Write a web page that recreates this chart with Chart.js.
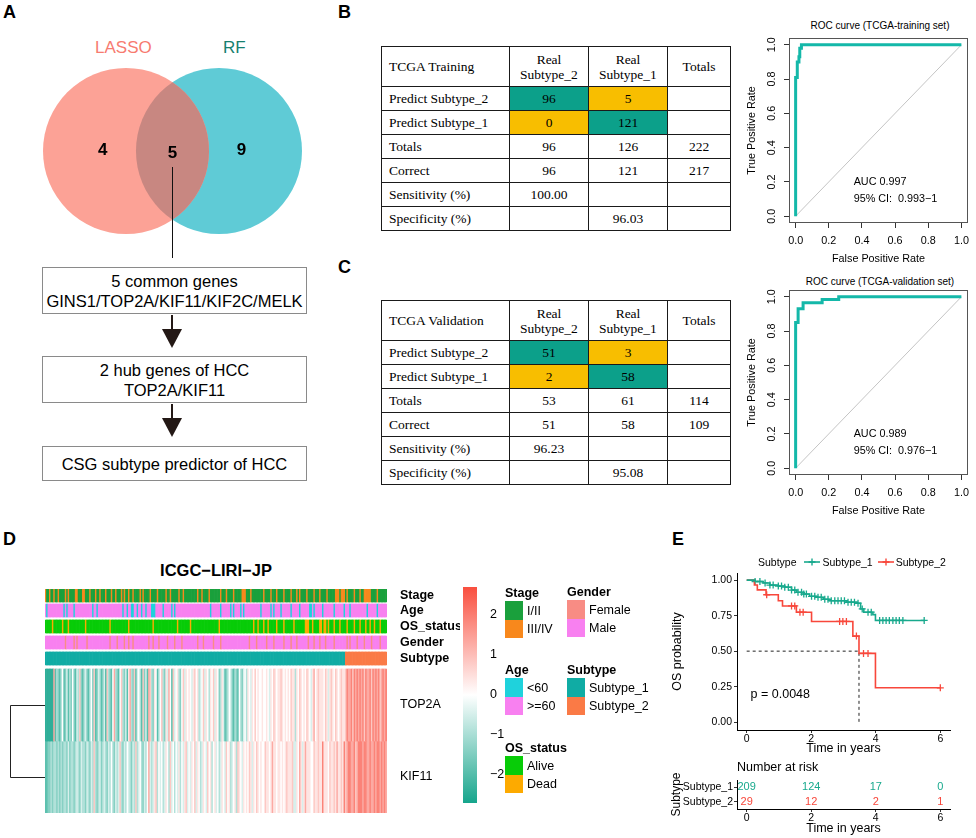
<!DOCTYPE html>
<html><head><meta charset="utf-8">
<script src="https://cdn.jsdelivr.net/npm/chart.js@4.4.1/dist/chart.umd.min.js"></script>
<style>
html,body{margin:0;padding:0;background:#fff}
body{position:relative;width:976px;height:838px;overflow:hidden;font-family:"Liberation Sans",Arial,sans-serif;color:#000}
.a{position:absolute;white-space:nowrap}
.plab{position:absolute;font-weight:bold;font-size:18px;line-height:18px}
.flow{position:absolute;left:42px;width:265px;border:1px solid #8a8a8a;box-sizing:border-box;text-align:center;font-size:16.5px;line-height:20px;display:flex;flex-direction:column;justify-content:center;align-items:center;background:#fff}
.stem{position:absolute;left:171px;width:2px;background:#231815}
.head{position:absolute;left:162px;width:0;height:0;border-left:10px solid transparent;border-right:10px solid transparent;border-top:19px solid #231815}
table.ct{position:absolute;left:381px;width:349px;border-collapse:collapse;table-layout:fixed;font-family:"Liberation Serif","Times New Roman",serif;font-size:13.5px}
table.ct td{border:1.5px solid #1a1a1a;padding:0;text-align:center;height:23px;line-height:15px}
table.ct tr.hd td{height:39px}
table.ct td.lab{text-align:left;padding-left:7px}
canvas{position:absolute}
.lg-t{position:absolute;font-weight:bold;font-size:12.5px;line-height:16px;white-space:nowrap}
.lg-s{position:absolute;width:18px;height:18.5px}
.lg-l{position:absolute;font-size:12.5px;line-height:16px;white-space:nowrap}
.rtitle{position:absolute;font-size:10px;line-height:12px;white-space:nowrap;transform:translateX(-50%)}
</style></head><body>

<div class="plab" style="left:3px;top:3px">A</div>
<div class="plab" style="left:338px;top:3px">B</div>
<div class="plab" style="left:338px;top:258px">C</div>
<div class="plab" style="left:3px;top:530px">D</div>
<div class="plab" style="left:672px;top:530px">E</div>

<!-- Panel A -->
<div id="vennT1" class="a" style="left:95px;top:39px;font-size:17px;line-height:18px;color:#F77B70"></div>
<div id="vennT2" class="a" style="left:223px;top:39px;font-size:17px;line-height:18px;color:#17806F"></div>
<canvas id="venn" width="345" height="180" style="left:0;top:61px"></canvas>
<div class="a" style="left:171.5px;top:167px;width:1.5px;height:91px;background:#111"></div>
<div id="flow0" class="flow" style="top:267px;height:47px"></div>
<div class="stem" style="top:315px;height:15px"></div>
<div class="head" style="top:329px"></div>
<div id="flow1" class="flow" style="top:356px;height:47px"></div>
<div class="stem" style="top:404px;height:15px"></div>
<div class="head" style="top:418px"></div>
<div id="flow2" class="flow" style="top:446px;height:35px"></div>

<!-- Panels B, C tables -->
<table id="tabTrain" class="ct" style="top:46px"></table>
<table id="tabValid" class="ct" style="top:300px"></table>

<div id="rocT1" class="rtitle" style="left:880px;top:20px"></div>
<canvas id="rocTrain" width="236" height="255" style="left:740px;top:16px"></canvas>
<div id="rocT2" class="rtitle" style="left:880px;top:276px"></div>
<canvas id="rocValid" width="236" height="255" style="left:740px;top:268px"></canvas>

<!-- Panel D -->
<div id="hmTitle" class="a" style="left:216px;top:561px;font-size:16.5px;line-height:18px;font-weight:bold;transform:translateX(-50%)"></div>
<canvas id="heat" width="460" height="254" style="left:0;top:574px"></canvas>
<canvas id="cbar" width="60" height="246" style="left:450px;top:572px"></canvas>
<div id="annLegend"></div>

<!-- Panel E -->
<div id="kmLegend" class="a" style="left:758px;top:555px;font-size:10.5px;line-height:14px"></div>
<canvas id="km" width="311" height="194" style="left:665px;top:564px"></canvas>
<div class="a" style="left:737px;top:759px;font-size:12.5px;line-height:16px">Number at risk</div>
<canvas id="risk" width="311" height="68" style="left:665px;top:770px"></canvas>

<script>
// ======================= DATA =======================
// Panel A
const vennSetNames = ['LASSO', 'RF'];
const vennRegionCounts = [4, 5, 9];           // LASSO only, both, RF only
const flowSteps = [
  ['5 common genes', 'GINS1/TOP2A/KIF11/KIF2C/MELK'],
  ['2 hub genes of HCC', 'TOP2A/KIF11'],
  ['CSG subtype predictor of HCC']
];

// Panels B / C tables
const tableColHeads = ['Real<br>Subtype_2', 'Real<br>Subtype_1', 'Totals'];
const tableRowLabels = ['Predict Subtype_2', 'Predict Subtype_1', 'Totals', 'Correct', 'Sensitivity (%)', 'Specificity (%)'];
const trainCells = [['96', '5', ''], ['0', '121', ''], ['96', '126', '222'], ['96', '121', '217'], ['100.00', '', ''], ['', '96.03', '']];
const validCells = [['51', '3', ''], ['2', '58', ''], ['53', '61', '114'], ['51', '58', '109'], ['96.23', '', ''], ['', '95.08', '']];

// ROC curves
const rocTicks = [0, 0.2, 0.4, 0.6, 0.8, 1.0];
const rocTrainFPR = [0, 0, 0.01, 0.01, 0.02, 0.02, 0.025, 0.025, 0.035, 0.035, 1];
const rocTrainTPR = [0, 0.81, 0.81, 0.90, 0.90, 0.93, 0.93, 0.98, 0.98, 1, 1];
const rocValidFPR = [0, 0, 0.015, 0.015, 0.045, 0.045, 0.16, 0.16, 0.26, 0.26, 1];
const rocValidTPR = [0, 0.85, 0.85, 0.93, 0.93, 0.965, 0.965, 0.985, 0.985, 1, 1];
const rocTrainStats = ['AUC 0.997', '95% CI:  0.993\u22121'];
const rocValidStats = ['AUC 0.989', '95% CI:  0.976\u22121'];

// Panel D heatmap (one character per sample)
const subtypeCounts = [209, 29];
const stageCodes = ["2112112112","1111212111","1221112211","1211121121","1121112112","1112121121","1211112121","1112111121","1111211211","1112112111","1111112112","1111211111","1121112111","1211111222","1112111111","1121111211","1211112111","1211121211","1121111211","1211112111","1122212221","2111121112","1122222111","12111111"].join('');
const ageCodes = ["2122222222","2221212222","1222222222","2221221222","2222222222","2222122122","1122122122","1222111222","2212222212","1222222222","2222222222","2222212222","2212222221","2122221212","2222222222","1222222121","2222122222","2122222122","2222112122","2221222222","2122222212","2212222222","2222122222","21222222"].join('');
const osCodes = ["1111121111","1121112111","1111111121","1111111111","1111121111","1111111121","1111111111","1111121111","1111111111","1121111111","1211111111","1111111111","1211111111","1111111111","1111121121","1121121111","1211112111","1112111111","1222112111","1221221211","1211121111","2111121112","1112112112","11121111"].join('');
const genderCodes = ["2222222222","2222122222","1212222221","2222222222","2222212222","1222212212","2122222222","2212212221","2222212222","1222212222","2222221222","1222222122","2212222222","2222222222","2212222122","2222122221","2222221222","2122212222","2221222122","2122212222","2122222222","1212222122","2212222122","22212222"].join('');
const top2aLevels = ["aaaaaaibdc","bdfbcebdcf","cbedhcbdec","bdfchbcedb","cebhdcbfid","cbfhdcebgi","dchbefdbhc","ebihdcgfbd","fhdcgeifbh","efgdcfhegf","gfeghfgdef","hegfdgfheg","fcdgebcdfe","cbdcbfdcef","dgfegfhfgf","fgffgfegfh","gfgghgfgfg","fhggdgfhgf","gfhgfegifg","hgggfhgegh","gfhgfghggh","jiijhjijij","ijhjiijhji","jijhijij"].join('');
const kif11Levels = ["bbccdcddcd","cdcddcecdd","cdedceddce","dcedhdcdec","dedcedfdce","dehdcedfed","cedhdefdce","dfiedeghdf","efdegfdhef","dfegdfeghe","fegfhegfde","gfehfgdfge","fdegfehfgd","efgdhgfegf","gfhgegfhgf","gffhggfgig","gfggfgfghg","ggheegfige","gigggffhgg","hggjgggfhg","ghgigghgjh","ijjiijhijj","jijjiijiij","ijjijiji"].join('');
const levelValues = {a: -2.4, b: -1.9, c: -1.4, d: -0.9, e: -0.45, f: 0, g: 0.4, h: 0.85, i: 1.3, j: 1.9, k: 2.4};
const colorbarTicks = [-2, -1, 0, 1, 2];
const annLegendGroups = [
  {title: 'Stage', labels: ['I/II', 'III/IV'], track: 0},
  {title: 'Gender', labels: ['Female', 'Male'], track: 3},
  {title: 'Age', labels: ['<60', '>=60'], track: 1},
  {title: 'Subtype', labels: ['Subtype_1', 'Subtype_2'], track: 4},
  {title: 'OS_status', labels: ['Alive', 'Dead'], track: 2}
];

// Panel E Kaplan-Meier
const km1Time = [0, 0.26, 0.51, 0.72, 0.98, 1.18, 1.39, 1.54, 1.75, 1.95, 2.16, 2.37, 2.57, 3.09, 3.40, 3.53, 3.63, 3.91, 3.99, 5.50];
const km1Surv = [1, 0.99, 0.98, 0.965, 0.958, 0.95, 0.93, 0.914, 0.902, 0.886, 0.879, 0.865, 0.855, 0.844, 0.837, 0.797, 0.774, 0.757, 0.716, 0.716];
const km1CensorTime = [0.26, 0.41, 0.57, 0.72, 0.82, 0.98, 1.08, 1.18, 1.29, 1.39, 1.49, 1.59, 1.70, 1.77, 1.85, 2.01, 2.11, 2.21, 2.31, 2.42, 2.52, 2.62, 2.73, 2.83, 2.93, 3.03, 3.14, 3.24, 3.34, 3.45, 3.58, 3.76, 3.86, 4.12, 4.22, 4.32, 4.42, 4.53, 4.63, 4.73, 4.84, 5.50];
const km1CensorSurv = [0.99, 0.99, 0.98, 0.965, 0.965, 0.958, 0.958, 0.95, 0.95, 0.93, 0.93, 0.914, 0.914, 0.902, 0.902, 0.886, 0.886, 0.879, 0.879, 0.865, 0.865, 0.855, 0.855, 0.855, 0.855, 0.855, 0.844, 0.844, 0.844, 0.837, 0.797, 0.774, 0.774, 0.716, 0.716, 0.716, 0.716, 0.716, 0.716, 0.716, 0.716, 0.716];
const km2Time = [0, 0.24, 0.33, 0.60, 0.98, 1.11, 1.54, 2.01, 3.29, 3.48, 3.99, 6.00];
const km2Surv = [1, 0.966, 0.931, 0.897, 0.855, 0.818, 0.774, 0.709, 0.606, 0.484, 0.242, 0.242];
const km2CensorTime = [0.62, 1.39, 1.49, 1.65, 1.75, 2.88, 2.98, 3.09, 3.40, 3.62, 3.76, 6.00];
const km2CensorSurv = [0.897, 0.818, 0.818, 0.774, 0.774, 0.709, 0.709, 0.709, 0.606, 0.484, 0.484, 0.242];
const kmGroups = ['Subtype_1', 'Subtype_2'];
const kmXTicks = [0, 2, 4, 6];
const kmYTicks = [0, 0.25, 0.5, 0.75, 1];
const medianTimeSubtype2 = 3.48;
const pValueText = 'p = 0.0048';
const riskTimes = [0, 2, 4, 6];
const riskSubtype1 = [209, 124, 17, 0];
const riskSubtype2 = [29, 12, 2, 1];

// ======================= STYLE =======================
const VENN_COLORS = ['#FCA296', '#5FCBD6'], VENN_OVERLAP = '#C88781';
const VENN_X_RANGE = [-2.078, 2.078], VENN_Y_RANGE = [-1.084, 1.084], VENN_W = 345;
const ROC_COLOR = '#14B8A9';
const CELL_TEAL = '#0CA08A', CELL_YELLOW = '#F8BE00';
const TRACK_PALETTES = [
  {'1': '#1AA03C', '2': '#F8881C'},
  {'1': '#1FD2DC', '2': '#F880F0'},
  {'1': '#08CC08', '2': '#FDAA00'},
  {'1': '#F88C84', '2': '#F880F0'},
  {'1': '#10ACA4', '2': '#FA7A46'}
];
const HEAT_LOW = [22, 165, 140], HEAT_HIGH = [249, 79, 63], HEAT_LIM = 2.7;
const KM_COLORS = ['#18A98D', '#F8473B'];
const FONT = "'Liberation Sans', Arial, sans-serif";

Chart.defaults.font.family = FONT;
Chart.defaults.color = '#000';
Chart.defaults.animation = false;
Chart.defaults.layout.autoPadding = false;
Chart.defaults.plugins.legend.display = false;
Chart.defaults.plugins.tooltip.enabled = false;
Chart.defaults.events = [];

// ======================= PANEL A =======================
document.getElementById('vennT1').textContent = vennSetNames[0];
document.getElementById('vennT2').textContent = vennSetNames[1];
flowSteps.forEach((lines, i) => {
  document.getElementById('flow' + i).innerHTML = lines.map(l => '<div>' + l + '</div>').join('');
});

const vennUnitPx = VENN_W / (VENN_X_RANGE[1] - VENN_X_RANGE[0]);   // circle radius = 1 unit
const vennPlugin = {
  id: 'vennPlugin',
  afterDatasetsDraw(chart) {
    const a = chart.getDatasetMeta(0).data[0], b = chart.getDatasetMeta(1).data[0];
    const ctx = chart.ctx, r = vennUnitPx;
    ctx.save();
    ctx.beginPath(); ctx.arc(a.x, a.y, r, 0, Math.PI * 2); ctx.clip();
    ctx.beginPath(); ctx.arc(b.x, b.y, r, 0, Math.PI * 2);
    ctx.fillStyle = VENN_OVERLAP; ctx.fill();
    ctx.restore();
    ctx.save();
    ctx.font = 'bold 17px ' + FONT; ctx.textAlign = 'center'; ctx.textBaseline = 'middle'; ctx.fillStyle = '#000';
    const xs = [a.x - 0.28 * r, (a.x + b.x) / 2, b.x + 0.27 * r];
    const dy = [-1, 2, -1];
    vennRegionCounts.forEach((c, i) => ctx.fillText(String(c), xs[i], a.y + dy[i]));
    ctx.restore();
  }
};
new Chart(document.getElementById('venn'), {
  type: 'bubble',
  data: {datasets: [
    {data: [{x: -0.56, y: 0, r: vennUnitPx}], backgroundColor: VENN_COLORS[0], borderWidth: 0},
    {data: [{x: 0.56, y: 0, r: vennUnitPx}], backgroundColor: VENN_COLORS[1], borderWidth: 0}
  ]},
  options: {
    responsive: false, layout: {padding: 0, autoPadding: false}, clip: false,
    scales: {x: {display: false, min: VENN_X_RANGE[0], max: VENN_X_RANGE[1]}, y: {display: false, min: VENN_Y_RANGE[0], max: VENN_Y_RANGE[1]}}
  },
  plugins: [vennPlugin]
});

// ======================= TABLES =======================
function buildTable(id, corner, cells) {
  const t = document.getElementById(id);
  let h = '<colgroup><col style="width:128px"><col style="width:79px"><col style="width:79px"><col style="width:63px"></colgroup>';
  h += '<tr class="hd"><td class="lab">' + corner + '</td>' + tableColHeads.map(c => '<td>' + c + '</td>').join('') + '</tr>';
  tableRowLabels.forEach((lab, r) => {
    h += '<tr><td class="lab">' + lab + '</td>';
    cells[r].forEach((v, c) => {
      let bg = '';
      if (r < 2 && c < 2) bg = (r === c) ? CELL_TEAL : CELL_YELLOW;
      h += '<td' + (bg ? ' style="background:' + bg + '"' : '') + '>' + v + '</td>';
    });
    h += '</tr>';
  });
  t.innerHTML = h;
}
buildTable('tabTrain', 'TCGA Training', trainCells);
buildTable('tabValid', 'TCGA Validation', validCells);

// ======================= ROC =======================
const boxPlugin = {
  id: 'boxPlugin',
  afterDraw(chart) {
    const {left, top, right, bottom} = chart.chartArea, ctx = chart.ctx;
    ctx.save(); ctx.strokeStyle = '#555'; ctx.lineWidth = 1;
    ctx.strokeRect(Math.round(left) + 0.5, Math.round(top) + 0.5, Math.round(right - left) - 1, Math.round(bottom - top) - 1);
    ctx.restore();
  }
};
const rocTextPlugin = {
  id: 'rocText',
  afterDatasetsDraw(chart, args, opts) {
    const {ctx, scales: {x, y}} = chart;
    ctx.save(); ctx.font = '10.8px ' + FONT; ctx.fillStyle = '#000'; ctx.textBaseline = 'middle'; ctx.textAlign = 'left';
    opts.lines.forEach((l, i) => ctx.fillText(l, x.getPixelForValue(0.35), y.getPixelForValue(0.2 - 0.1 * i)));
    ctx.restore();
  }
};
function rocChart(id, fpr, tpr, stats) {
  return new Chart(document.getElementById(id), {
    type: 'line',
    data: {datasets: [
      {data: fpr.map((v, i) => ({x: v, y: tpr[i]})), borderColor: ROC_COLOR, borderWidth: 3, pointRadius: 0, tension: 0, borderJoinStyle: 'miter', borderCapStyle: 'butt'},
      {data: [{x: 0, y: 0}, {x: 1, y: 1}], borderColor: '#C4C4C4', borderWidth: 1, pointRadius: 0}
    ]},
    options: {
      responsive: false,
      layout: {padding: {left: 0, right: 3, top: 22, bottom: 0}},
      scales: {
        x: {type: 'linear', min: -0.04, max: 1.04,
            afterBuildTicks: s => { s.ticks = rocTicks.map(v => ({value: v})); },
            ticks: {callback: v => v.toFixed(1), font: {size: 10.8}, color: '#000', maxRotation: 0, padding: 7},
            grid: {drawOnChartArea: false, tickLength: 5, color: '#333'}, border: {display: false},
            title: {display: true, text: 'False Positive Rate', font: {size: 10.8}, color: '#000', padding: {top: 0, bottom: 5}},
            afterFit: s => { s.height = 48; }},
        y: {type: 'linear', min: -0.04, max: 1.04,
            afterBuildTicks: s => { s.ticks = rocTicks.map(v => ({value: v})); },
            ticks: {callback: v => v.toFixed(1), font: {size: 10.8}, color: '#000', minRotation: 90, maxRotation: 90, crossAlign: 'center', padding: 4},
            grid: {drawOnChartArea: false, tickLength: 5, color: '#333'}, border: {display: false},
            title: {display: true, text: 'True Positive Rate', font: {size: 10.8}, color: '#000', padding: {top: 6, bottom: 0}},
            afterFit: s => { s.width = 49; }}
      },
      plugins: {rocText: {lines: stats}}
    },
    plugins: [boxPlugin, rocTextPlugin]
  });
}
document.getElementById('rocT1').textContent = 'ROC curve (TCGA-training set)';
document.getElementById('rocT2').textContent = 'ROC curve (TCGA-validation set)';
rocChart('rocTrain', rocTrainFPR, rocTrainTPR, rocTrainStats);
rocChart('rocValid', rocValidFPR, rocValidTPR, rocValidStats);

// ======================= HEATMAP =======================
document.getElementById('hmTitle').textContent = 'ICGC\u2212LIRI\u2212JP';
const subtypeCodes = '1'.repeat(subtypeCounts[0]) + '2'.repeat(subtypeCounts[1]);
const N = subtypeCodes.length;
const sampleIds = Array.from({length: N}, (_, i) => 'S' + (i + 1));
function heatColor(v) {
  const t = Math.max(-1, Math.min(1, v / HEAT_LIM));
  const c = t < 0 ? HEAT_LOW : HEAT_HIGH, f = Math.abs(t);
  return 'rgb(' + [0, 1, 2].map(k => Math.round(255 + (c[k] - 255) * f)).join(',') + ')';
}
const annTracks = [
  {label: 'Stage', codes: stageCodes},
  {label: 'Age', codes: ageCodes},
  {label: 'OS_status', codes: osCodes},
  {label: 'Gender', codes: genderCodes},
  {label: 'Subtype', codes: subtypeCodes}
];
const geneTracks = [
  {label: 'TOP2A', levels: top2aLevels},
  {label: 'KIF11', levels: kif11Levels}
];
// vertical layout bands (y units = px of the plot area)
const TRACK_BANDS = [[0, 13], [15, 28], [31, 44], [47, 60], [63, 76], [80, 152], [152, 224]];
const trackLabels = annTracks.map(t => t.label).concat(geneTracks.map(t => t.label));
const trackColors = annTracks.map((t, i) => t.codes.split('').map(c => TRACK_PALETTES[i][c]))
  .concat(geneTracks.map(g => g.levels.split('').map(ch => heatColor(levelValues[ch]))));
const heatDatasets = trackColors.map((cols, i) => ({
  label: trackLabels[i],
  data: sampleIds.map(() => TRACK_BANDS[i].slice()),
  backgroundColor: cols, borderWidth: 0, barPercentage: 1, categoryPercentage: 1, grouped: false
}));
const dendroPlugin = {
  id: 'dendro',
  afterDraw(chart) {
    const {ctx, chartArea: ca, scales: {y}} = chart;
    const ya = Math.round(y.getPixelForValue((TRACK_BANDS[5][0] + TRACK_BANDS[5][1]) / 2));
    const yb = Math.round(y.getPixelForValue((TRACK_BANDS[6][0] + TRACK_BANDS[6][1]) / 2));
    const x0 = Math.round(ca.left - 35);
    ctx.save(); ctx.strokeStyle = '#222'; ctx.lineWidth = 1;
    ctx.beginPath(); ctx.moveTo(ca.left, ya + 0.5); ctx.lineTo(x0 + 0.5, ya + 0.5); ctx.lineTo(x0 + 0.5, yb + 0.5); ctx.lineTo(ca.left, yb + 0.5); ctx.stroke();
    ctx.restore();
  }
};
new Chart(document.getElementById('heat'), {
  type: 'bar',
  data: {labels: sampleIds, datasets: heatDatasets},
  options: {
    responsive: false,
    layout: {padding: {left: 45, right: 0, top: 15, bottom: 15}},
    scales: {
      x: {display: false},
      y: {type: 'linear', min: 0, max: 224, reverse: true, position: 'right',
          afterBuildTicks: s => { s.ticks = TRACK_BANDS.map(b => ({value: (b[0] + b[1]) / 2})); },
          ticks: {callback: (v, i) => trackLabels[i], padding: 5, color: '#000', autoSkip: false,
                  font: (ctx) => ({size: 12.5, weight: ctx.index < 5 ? 'bold' : 'normal'})},
          grid: {display: false}, border: {display: false},
          afterFit: s => { s.width = 73; }}
    }
  },
  plugins: [dendroPlugin]
});

// colour bar
new Chart(document.getElementById('cbar'), {
  type: 'bar',
  data: {labels: ['z'], datasets: [{
    data: [[-HEAT_LIM, HEAT_LIM]], borderWidth: 0, barPercentage: 1, categoryPercentage: 1,
    backgroundColor: (ctx) => {
      const ca = ctx.chart.chartArea; if (!ca) return '#fff';
      const g = ctx.chart.ctx.createLinearGradient(0, ca.bottom, 0, ca.top);
      [-2.7, -1.8, -0.9, 0, 0.9, 1.8, 2.7].forEach(v => g.addColorStop((v + HEAT_LIM) / (2 * HEAT_LIM), heatColor(v)));
      return g;
    }
  }]},
  options: {
    responsive: false,
    layout: {padding: {left: 13, right: 0, top: 15, bottom: 15}},
    scales: {
      x: {display: false},
      y: {type: 'linear', min: -HEAT_LIM, max: HEAT_LIM, position: 'right',
          afterBuildTicks: s => { s.ticks = colorbarTicks.map(v => ({value: v})); },
          ticks: {callback: v => (v < 0 ? '\u2212' + Math.abs(v) : String(v)), font: {size: 12.5}, color: '#000', padding: 5},
          grid: {display: false}, border: {display: false},
          afterFit: s => { s.width = 33; }}
    }
  }
});

// annotation legends
const ANN_LEGEND_POS = [[505, 585], [567, 584], [505, 662], [567, 662], [505, 740]];
let lgHtml = '';
annLegendGroups.forEach((g, gi) => {
  const [lx, ty] = ANN_LEGEND_POS[gi];
  lgHtml += '<div class="lg-t" style="left:' + lx + 'px;top:' + ty + 'px">' + g.title + '</div>';
  g.labels.forEach((lab, k) => {
    const sy = ty + 16 + k * 18.5;
    lgHtml += '<div class="lg-s" style="left:' + lx + 'px;top:' + sy + 'px;background:' + TRACK_PALETTES[g.track][String(k + 1)] + '"></div>';
    lgHtml += '<div class="lg-l" style="left:' + (lx + 22) + 'px;top:' + (sy + 1.5) + 'px">' + lab.replace('<', '&lt;').replace('>', '&gt;') + '</div>';
  });
});
document.getElementById('annLegend').innerHTML = lgHtml;

// ======================= KAPLAN-MEIER =======================
function kmKey(color) {
  return '<svg width="16" height="10" style="vertical-align:-1px;margin:0 2px 0 5px"><line x1="0" y1="5" x2="16" y2="5" stroke="' + color + '" stroke-width="1.6"/><line x1="8" y1="1.5" x2="8" y2="8.5" stroke="' + color + '" stroke-width="1.4"/><line x1="4.5" y1="5" x2="11.5" y2="5" stroke="' + color + '" stroke-width="1.6"/></svg>';
}
document.getElementById('kmLegend').innerHTML = 'Subtype ' + kmGroups.map((g, i) => kmKey(KM_COLORS[i]) + g).join('');

const kmTextPlugin = {
  id: 'kmText',
  afterDatasetsDraw(chart) {
    const {ctx, scales: {x, y}} = chart;
    ctx.save(); ctx.font = '12.5px ' + FONT; ctx.fillStyle = '#000'; ctx.textAlign = 'left'; ctx.textBaseline = 'middle';
    ctx.fillText(pValueText, x.getPixelForValue(0.12), y.getPixelForValue(0.196));
    ctx.restore();
  }
};
const axisCommon = {grid: {drawOnChartArea: false, tickLength: 3, color: '#333'}, border: {display: true, color: '#000', width: 1}};
new Chart(document.getElementById('km'), {
  type: 'line',
  data: {datasets: [
    {data: km1Time.map((t, i) => ({x: t, y: km1Surv[i]})), stepped: true, borderColor: KM_COLORS[0], borderWidth: 1.6, pointRadius: 0},
    {data: km2Time.map((t, i) => ({x: t, y: km2Surv[i]})), stepped: true, borderColor: KM_COLORS[1], borderWidth: 1.6, pointRadius: 0},
    {data: km1CensorTime.map((t, i) => ({x: t, y: km1CensorSurv[i]})), showLine: false, pointStyle: 'cross', pointRadius: 3.5, borderColor: KM_COLORS[0], borderWidth: 1.3},
    {data: km2CensorTime.map((t, i) => ({x: t, y: km2CensorSurv[i]})), showLine: false, pointStyle: 'cross', pointRadius: 3.5, borderColor: KM_COLORS[1], borderWidth: 1.3},
    {data: [{x: 0, y: 0.5}, {x: medianTimeSubtype2, y: 0.5}, {x: medianTimeSubtype2, y: 0}], borderColor: '#222', borderWidth: 1, borderDash: [3, 3], pointRadius: 0}
  ]},
  options: {
    responsive: false,
    layout: {padding: {left: 0, right: 26, top: 9, bottom: 0}},
    scales: {
      x: Object.assign({type: 'linear', min: -0.3, max: 6.3,
          afterBuildTicks: s => { s.ticks = kmXTicks.map(v => ({value: v})); },
          ticks: {font: {size: 10.5}, color: '#000', padding: 0, maxRotation: 0},
          title: {display: true, text: 'Time in years', font: {size: 12.5}, color: '#000', padding: {top: 0, bottom: 1.5}},
          afterFit: s => { s.height = 28; }}, axisCommon),
      y: Object.assign({type: 'linear', min: -0.055, max: 1.05,
          afterBuildTicks: s => { s.ticks = kmYTicks.map(v => ({value: v})); },
          ticks: {callback: v => v.toFixed(2), font: {size: 10.5}, color: '#000', padding: 2},
          title: {display: true, text: 'OS probability', font: {size: 12.5}, color: '#000', padding: {top: 5, bottom: 0}},
          afterFit: s => { s.width = 72; }}, axisCommon)
    }
  },
  plugins: [kmTextPlugin]
});

// risk table
const riskRows = [riskSubtype1, riskSubtype2];
const riskPlugin = {
  id: 'riskNums',
  afterDatasetsDraw(chart) {
    const {ctx, scales: {x, y}} = chart;
    ctx.save(); ctx.font = '11px ' + FONT; ctx.textAlign = 'center'; ctx.textBaseline = 'middle';
    riskRows.forEach((row, ri) => {
      ctx.fillStyle = KM_COLORS[ri];
      row.forEach((v, i) => ctx.fillText(String(v), x.getPixelForValue(riskTimes[i]), y.getPixelForValue(ri)));
    });
    ctx.restore();
  }
};
new Chart(document.getElementById('risk'), {
  type: 'line',
  data: {datasets: []},
  options: {
    responsive: false,
    layout: {padding: {left: 0, right: 26, top: 10, bottom: 0}},
    scales: {
      x: Object.assign({type: 'linear', min: -0.3, max: 6.3,
          afterBuildTicks: s => { s.ticks = riskTimes.map(v => ({value: v})); },
          ticks: {font: {size: 10.5}, color: '#000', padding: 0, maxRotation: 0},
          title: {display: true, text: 'Time in years', font: {size: 12.5}, color: '#000', padding: {top: 0, bottom: 1.5}},
          afterFit: s => { s.height = 29; }}, axisCommon),
      y: Object.assign({type: 'category', labels: kmGroups, offset: true,
          ticks: {font: {size: 10.5}, color: '#000', padding: 1, autoSkip: false},
          title: {display: true, text: 'Subtype', font: {size: 12}, color: '#000', padding: {top: 4, bottom: 0}},
          afterFit: s => { s.width = 72; }}, axisCommon)
    }
  },
  plugins: [riskPlugin]
});
</script>
</body></html>
